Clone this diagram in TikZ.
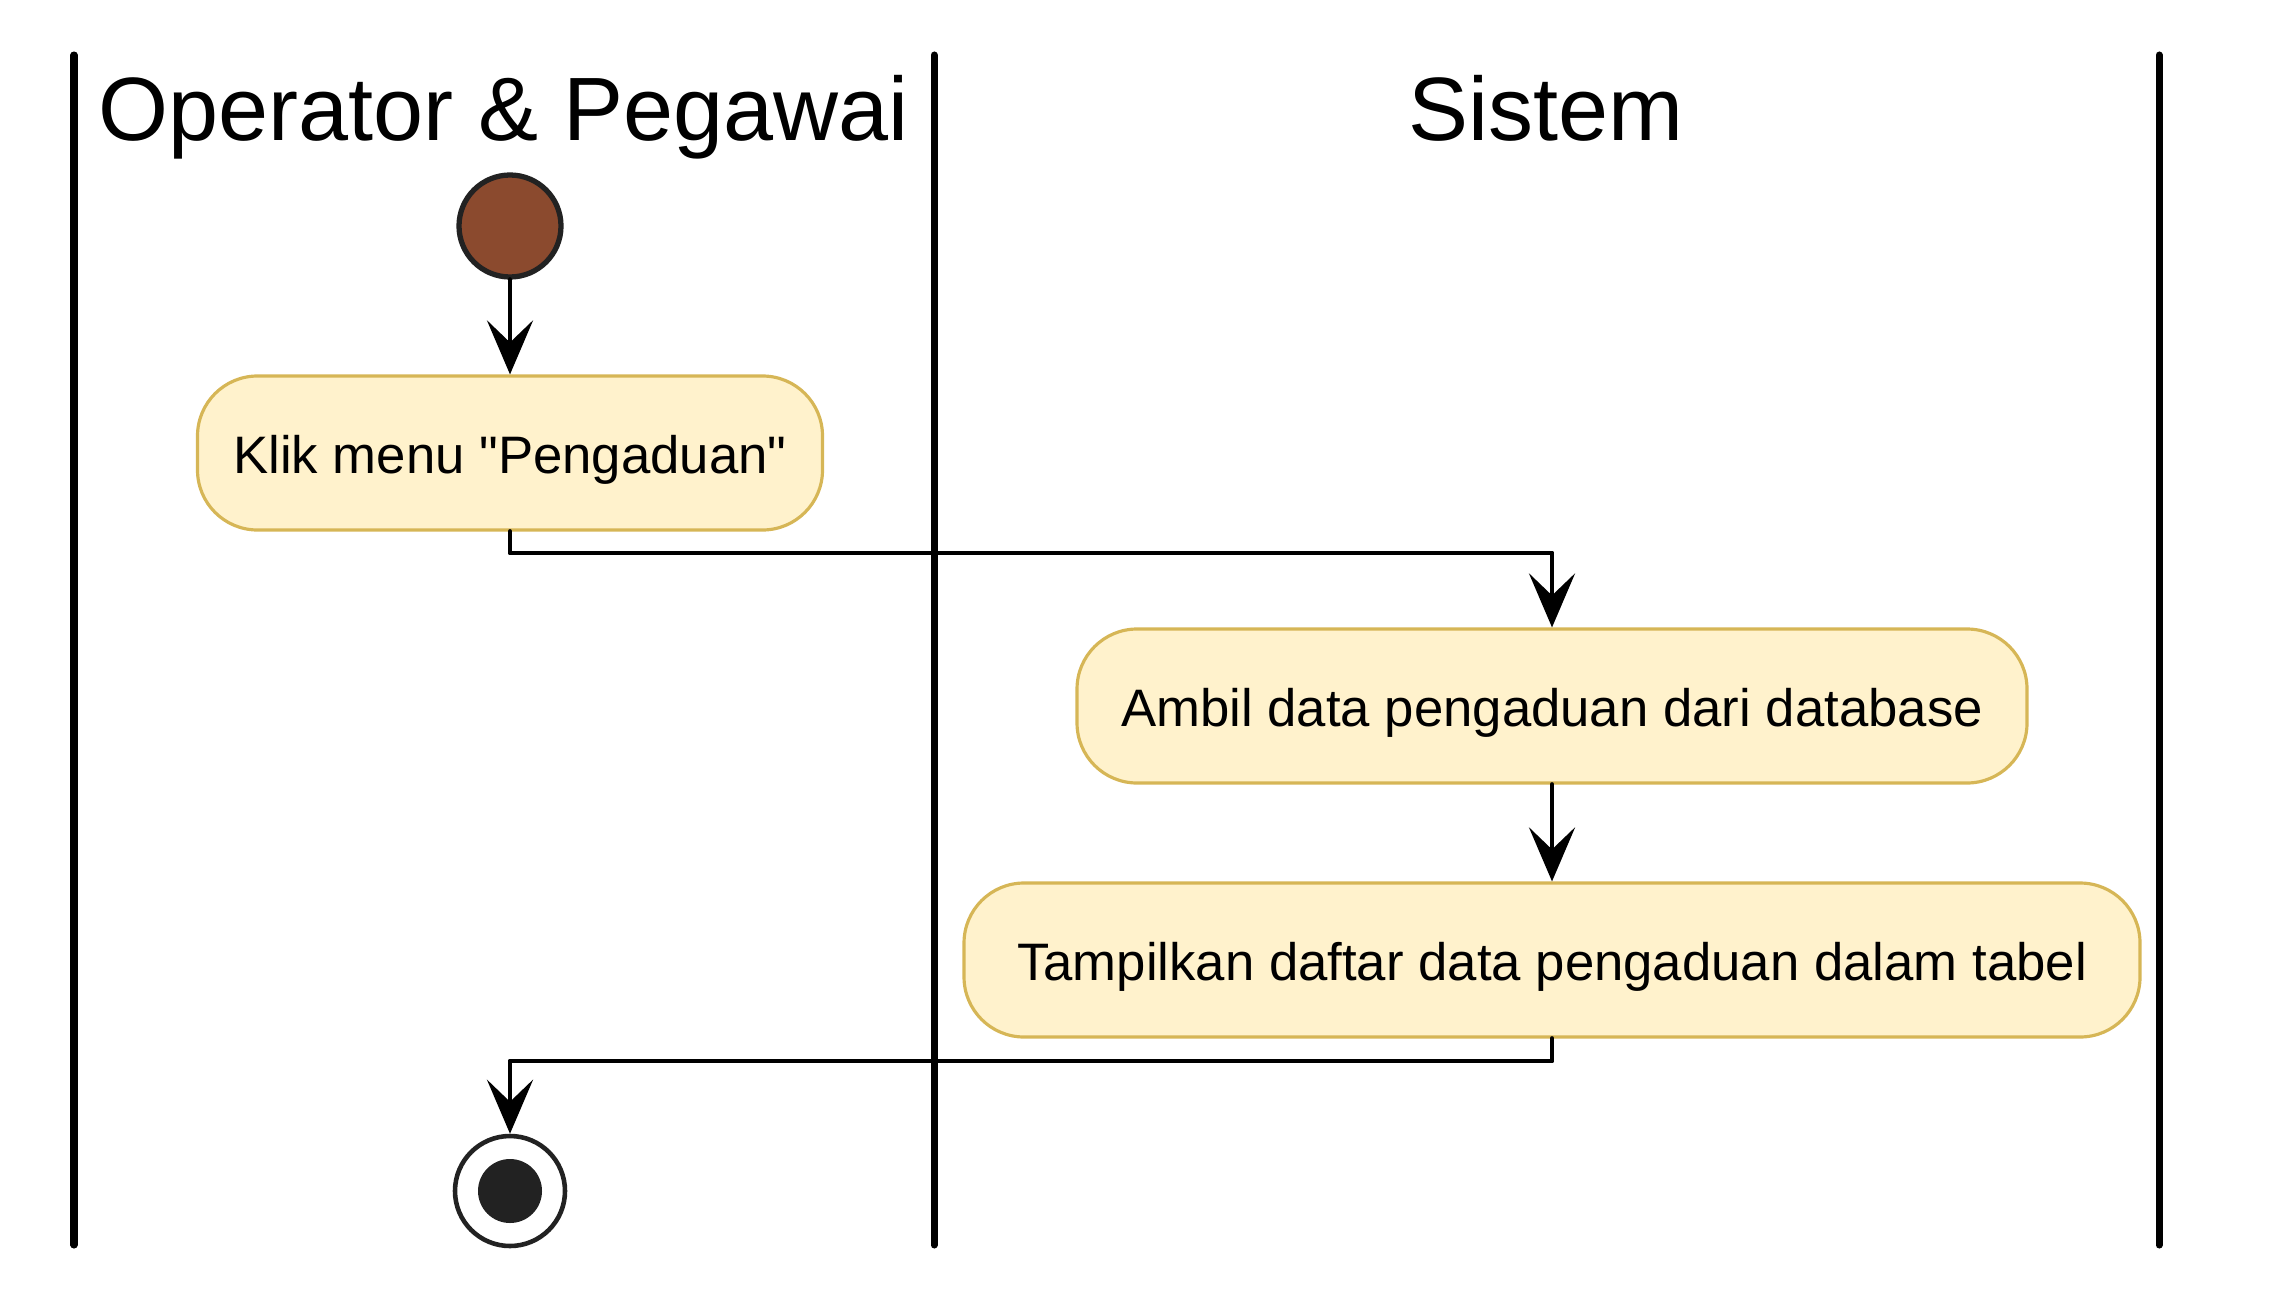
\documentclass[tikz,border=0pt]{standalone}
\usepackage{fontspec}
\setmainfont{Liberation Sans}
\usetikzlibrary{arrows.meta}
\definecolor{actfill}{HTML}{FFF2CC}
\definecolor{actdraw}{HTML}{D6B656}
\definecolor{startfill}{HTML}{8B4A2E}
\definecolor{dotgray}{HTML}{222222}

\begin{document}
\begin{tikzpicture}[line cap=round,line join=round,>={Stealth[length=0.54cm,width=0.46cm,inset=0.22cm]},x=1cm,y=1cm,
  lane/.style={line width=2pt},
  lanetitle/.style={font=\fontsize{25.6}{30}\selectfont,anchor=base},
  action/.style={rectangle,rounded corners=0.6cm,draw=actdraw,fill=actfill,line width=0.9pt,minimum height=1.54cm,font=\fontsize{15}{18}\selectfont,text height=0.55cm,text depth=0.15cm,inner sep=0pt},
  flow/.style={line width=1.4pt,->}]
%\clip(0,0) rectangle (22.7,-13.05);
\useasboundingbox (0,0) rectangle (22.7,-13.05);
\draw [lane] (0.74,-0.55)-- (0.74,-12.45);
\draw [lane] (9.34,-0.55)-- (9.34,-12.45);
\draw [lane] (21.59,-0.55)-- (21.59,-12.45);
\node[lanetitle] (opTitle) at (5.04,-1.41) {Operator \& Pegawai};
\node[lanetitle] (sysTitle) at (15.46,-1.41) {Sistem};
\node[circle,draw=dotgray,fill=startfill,line width=1.5pt,minimum size=1.02cm,inner sep=0pt] (start) at (5.10,-2.26) {};
\node[action,minimum width=6.25cm] (klik) at (5.10,-4.53) {Klik menu \textquotedbl Pengaduan\textquotedbl};
\node[action,minimum width=9.50cm] (ambil) at (15.52,-7.06) {Ambil data pengaduan dari database};
\node[action,minimum width=11.76cm] (tampil) at (15.52,-9.60) {Tampilkan daftar data pengaduan dalam tabel};
\node[circle,draw=dotgray,fill=white,line width=1.3pt,minimum size=1.10cm,inner sep=0pt] (stop) at (5.10,-11.91) {};
\fill[dotgray] (stop.center) circle (0.32);
\coordinate (k1) at (5.10,-5.53);
\coordinate (k2) at (15.52,-5.53);
\coordinate (t1) at (15.52,-10.61);
\coordinate (t2) at (5.10,-10.61);
\draw [flow] (start)-- (klik);
\draw [flow] (klik.south)-- (k1)-- (k2)-- (ambil.north);
\draw [flow] (ambil)-- (tampil);
\draw [flow] (tampil.south)-- (t1)-- (t2)-- (stop.north);
\end{tikzpicture}
\end{document}
